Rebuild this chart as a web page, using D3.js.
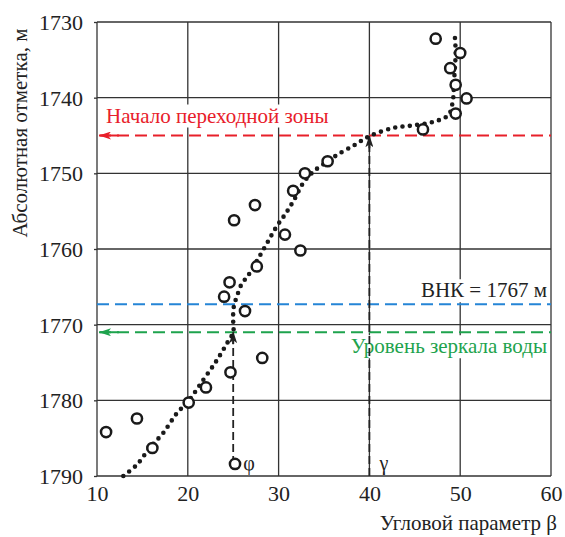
<!DOCTYPE html>
<html>
<head>
<meta charset="utf-8">
<script src="https://cdn.jsdelivr.net/npm/d3@7"></script>
</head>
<body style="margin:0">
<svg id="fig" width="565" height="537" style="font-family:'Liberation Serif'"></svg>
<script>
// axis ticks
var xTicks = [10, 20, 30, 40, 50, 60];
var yTicks = [1730, 1740, 1750, 1760, 1770, 1780, 1790];

// measured points (angle parameter beta, absolute mark)
var betaObs  = [47.3, 50.0, 48.9, 49.5, 50.7, 49.5, 45.9, 35.4, 32.9, 31.6, 27.4, 25.1, 30.7, 32.4, 27.6,
                24.6, 24.0, 26.3, 28.2, 24.7, 22.0, 20.1, 14.4, 11.0, 16.1, 25.2];
var depthObs = [1732.2, 1734.1, 1736.1, 1738.3, 1740.1, 1742.1, 1744.2, 1748.4, 1750.0, 1752.3, 1754.2, 1756.2, 1758.1, 1760.2, 1762.3,
                1764.4, 1766.3, 1768.2, 1774.4, 1776.3, 1778.3, 1780.3, 1782.4, 1784.2, 1786.3, 1788.4];

// dotted trend curve
var betaCurve  = [12.9, 14.4, 15.8, 17.3, 18.8, 20.0, 21.7, 23.2, 24.3, 25.0, 25.0, 25.0, 25.1, 25.4, 25.9, 26.7,
                  28.5, 29.8, 30.9, 31.8, 32.7, 33.8, 35.3, 36.4, 38.3, 40.0, 42.6, 44.6, 47.0, 48.7, 49.2, 49.3, 49.4, 49.5, 49.4];
var depthCurve = [1790, 1788.5, 1786.3, 1784.3, 1781.7, 1780.2, 1777.3, 1774.7, 1772.5, 1771.0, 1769.5, 1768.5, 1767.4, 1766.3, 1764.7, 1763.4,
                  1759.7, 1757.0, 1755.1, 1753.3, 1751.3, 1749.8, 1748.5, 1747.6, 1746.3, 1745.1, 1744.0, 1743.7, 1743.2, 1742.3, 1740.3, 1738.5, 1736.3, 1734.1, 1731.7];

// horizontal levels
var levelNames  = ["Начало переходной зоны", "ВНК  = 1767 м", "Уровень зеркала воды"];
var levelDepths = [1745, 1767.3, 1771];
var levelColors = ["#e8202a", "#2585d6", "#1ea34d"];
var levelArrow  = [true, false, true];
var levelTextAbove = [true, true, false];

// phi and gamma markers
var markNames = ["φ", "γ"];
var markBeta = [25, 40];
var markFrom = [1788.4, 1790];
var markTo   = [1771, 1745.1];

var FONT = "Liberation Serif";
var svg = d3.select("#fig");
var x = d3.scaleLinear().domain([10, 60]).range([97, 551]);
var y = d3.scaleLinear().domain([1730, 1790]).range([22, 476]);

var defs = svg.append("defs");
function marker(id, color){
  defs.append("marker").attr("id", id)
    .attr("viewBox", "0 0 12 8").attr("refX", 11).attr("refY", 4)
    .attr("markerWidth", 12).attr("markerHeight", 8)
    .attr("markerUnits", "userSpaceOnUse").attr("orient", "auto")
    .append("path").attr("d", "M0,0 L12,4 L0,8 L3,4 Z").attr("fill", color);
}
marker("arr-black", "#222");
levelColors.forEach(function(c, i){ marker("arr-" + i, c); });

// grid
var grid = svg.append("g").attr("stroke", "#333").attr("stroke-width", 1.3);
grid.selectAll("line.v").data(xTicks).enter().append("line")
  .attr("x1", function(d){ return x(d); }).attr("x2", function(d){ return x(d); })
  .attr("y1", y(1730)).attr("y2", y(1790));
grid.selectAll("line.h").data(yTicks).enter().append("line")
  .attr("y1", function(d){ return y(d); }).attr("y2", function(d){ return y(d); })
  .attr("x1", x(10)).attr("x2", x(60));

// axes
var ax = svg.append("g").attr("transform", "translate(" + x(10) + ",0)")
  .call(d3.axisLeft(y).tickValues(yTicks).tickSize(3).tickPadding(11).tickFormat(d3.format("d")));
var bx = svg.append("g").attr("transform", "translate(0," + y(1790) + ")")
  .call(d3.axisBottom(x).tickValues(xTicks).tickSize(0).tickPadding(8).tickFormat(d3.format("d")));
[ax, bx].forEach(function(g){
  g.attr("font-family", null).attr("font-size", null);
  g.select(".domain").remove();
  g.selectAll("line").attr("stroke", "#333").attr("stroke-width", 1.3);
  g.selectAll("text").attr("font-size", 22).attr("fill", "#222");
});
ax.selectAll("text").attr("dy", "0.34em");
bx.selectAll("text").attr("dy", "0.76em");

svg.append("text").attr("transform", "translate(27," + 133 + ") rotate(-90)")
  .attr("text-anchor", "middle").attr("font-size", 21).attr("fill", "#222")
  .text("Абсолютная отметка, м");
svg.append("text").attr("x", 557).attr("y", 530).attr("text-anchor", "end")
  .attr("font-size", 21).attr("fill", "#222").text("Угловой параметр β");

// level labels
var labels = svg.append("g");
var labelTexts = levelNames.map(function(name, i){
  var t;
  if (i === 0) {
    t = labels.append("text").attr("x", 106).attr("y", y(levelDepths[i]) - 13).attr("text-anchor", "start");
  } else {
    t = labels.append("text").attr("x", 547).attr("y", levelTextAbove[i] ? y(levelDepths[i]) - 7 : y(levelDepths[i]) + 21)
      .attr("text-anchor", "end");
  }
  return t.attr("font-size", 21).attr("fill", i === 1 ? "#222" : levelColors[i]).text(name);
});

// level lines
svg.append("g").selectAll("line").data(levelDepths).enter().append("line")
  .attr("x1", function(d, i){ return levelArrow[i] ? x(10) + 2 : x(10); })
  .attr("x2", x(60))
  .attr("y1", function(d){ return y(d); }).attr("y2", function(d){ return y(d); })
  .attr("stroke", function(d, i){ return levelColors[i]; })
  .attr("stroke-width", 2).attr("stroke-dasharray", "12 6");
svg.append("g").selectAll("line").data(levelDepths.filter(function(d, i){ return levelArrow[i]; })).enter().append("line")
  .attr("x1", x(10) + 22).attr("x2", x(10) + 3)
  .attr("y1", function(d){ return y(d); }).attr("y2", function(d){ return y(d); })
  .attr("stroke", function(d, i){ return levelColors[i === 0 ? 0 : 2]; })
  .attr("stroke-width", 2)
  .attr("marker-end", function(d, i){ return "url(#arr-" + (i === 0 ? 0 : 2) + ")"; });

// phi / gamma vertical arrows
var marks = svg.append("g");
markBeta.forEach(function(b, i){
  marks.append("line")
    .attr("x1", x(b)).attr("x2", x(b)).attr("y1", y(markFrom[i])).attr("y2", y(markTo[i]) + 8)
    .attr("stroke", "#222").attr("stroke-width", 1.8).attr("stroke-dasharray", "8 4");
  marks.append("line")
    .attr("x1", x(b)).attr("x2", x(b)).attr("y1", y(markTo[i]) + 12).attr("y2", y(markTo[i]))
    .attr("stroke", "#222").attr("stroke-width", 1.8).attr("marker-end", "url(#arr-black)");
  marks.append("text").attr("x", x(b) + 10).attr("y", y(1788.4) + 6)
    .attr("font-size", 20).attr("fill", "#222").text(markNames[i]);
});

// dotted curve
var curve = d3.line()
  .x(function(d){ return x(d[0]); })
  .y(function(d){ return y(d[1]); })
  .curve(d3.curveCatmullRom.alpha(0.5));
svg.append("path")
  .datum(d3.zip(betaCurve, depthCurve))
  .attr("d", curve)
  .attr("fill", "none").attr("stroke", "#1a1a1a").attr("stroke-width", 4.6)
  .attr("stroke-linecap", "round").attr("stroke-dasharray", "0 7.4");

// observed points
svg.append("g").selectAll("circle").data(d3.zip(betaObs, depthObs)).enter().append("circle")
  .attr("cx", function(d){ return x(d[0]); })
  .attr("cy", function(d){ return y(d[1]); })
  .attr("r", 5.1)
  .attr("fill", "#fff").attr("stroke", "#1a1a1a").attr("stroke-width", 2.5);

svg.selectAll("text").attr("font-family", function(){ return FONT; });

// white backing behind the level labels
labelTexts.forEach(function(t){
  var b = t.node().getBBox();
  labels.insert("rect", function(){ return t.node(); })
    .attr("x", b.x - 2).attr("y", b.y + 1).attr("width", b.width + 4).attr("height", b.height - 1)
    .attr("fill", "#fff");
});
</script>
</body>
</html>
